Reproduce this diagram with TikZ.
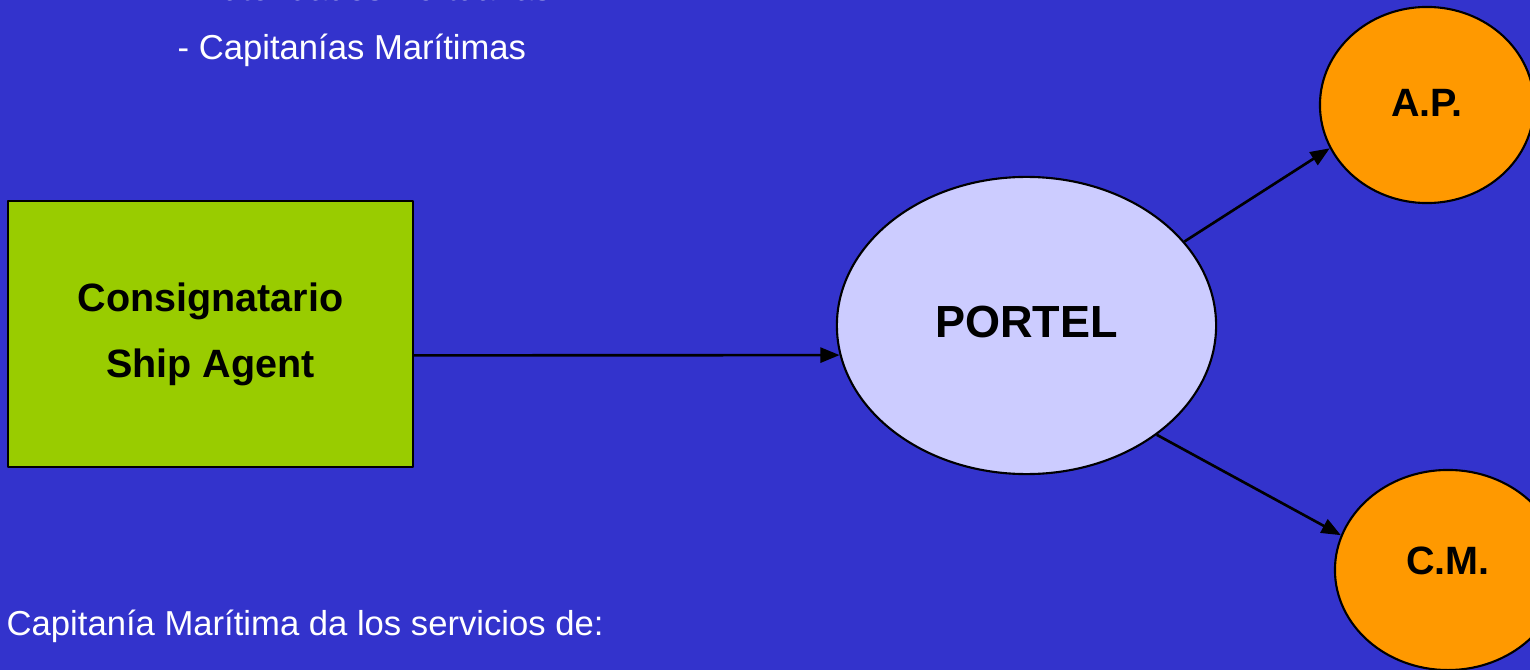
\documentclass[tikz,border=0pt]{standalone}
\usepackage{fontspec}
\setmainfont{Liberation Sans}
\usetikzlibrary{shapes.geometric,arrows.meta}
\definecolor{fondo}{HTML}{3333CC}
\definecolor{verde}{HTML}{99CC00}
\definecolor{lila}{HTML}{CCCCFF}
\definecolor{naranja}{HTML}{FF9900}
\begin{document}
\begin{tikzpicture}[x=0.01cm, y=-0.01cm, line join=round, >={Triangle[length=5.5pt,width=4.3pt]},
    caja/.style={draw=black, line width=0.6pt, fill=verde, minimum width=4.05cm, minimum height=2.66cm,
        inner sep=0pt, align=center, font=\fontsize{11.24}{18.8}\selectfont\bfseries},
    nodo/.style={ellipse, draw=black, line width=0.6pt, inner sep=0pt, font=\fontsize{11.24}{13}\selectfont\bfseries},
    texto/.style={anchor=base west, inner sep=0pt, text=white, font=\fontsize{9.85}{12}\selectfont},
    flecha/.style={->, line width=0.75pt}]
    \useasboundingbox (0,0) rectangle (1530,670);
    \fill[fondo] (0,0) rectangle (1530,670);
    \clip (0,0) rectangle (1530,670);
    % textos
    \node[texto] (listaap) at (177,1) {- Autoridades Portuarias};
    \node[texto] (listacm) at (177,60) {- Capitanías Marítimas};
    \node[texto] (servicios) at (6,635) {Capitanía Marítima da los servicios de:};
    % nodos
    \node[caja] (agente) at (210.5,334) {Consignatario\\Ship Agent};
    \node[nodo, fill=lila, minimum width=3.79cm, minimum height=2.97cm, text depth=0.08cm,
        font=\fontsize{12.8}{15}\selectfont\bfseries] (portel) at (1026.5,325.5) {PORTEL};
    \node[nodo, fill=naranja, minimum width=2.14cm, minimum height=1.96cm, text depth=0.05cm] (ap) at (1427,105) {A.P.};
    \node[nodo, fill=naranja, minimum width=2.26cm, minimum height=2.0cm, text depth=0.19cm] (cm) at (1448,570) {C.M.};
    % flechas
    \draw[flecha] (agente.-6.2) -- (portel.189.3);
    \draw[flecha] (portel.28) -- (ap.204);
    \draw[flecha] (portel.-40.5) -- (cm.162.7);
\end{tikzpicture}
\end{document}
